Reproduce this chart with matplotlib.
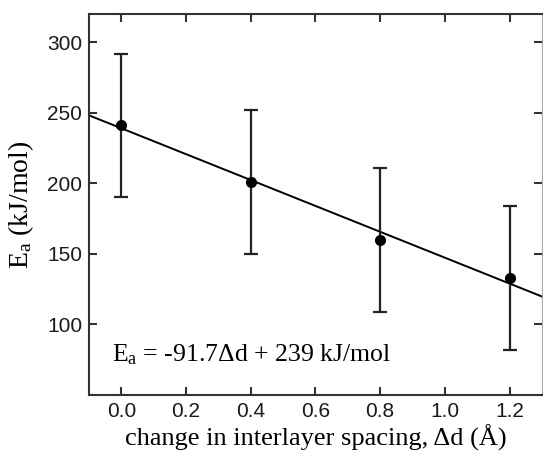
import matplotlib
matplotlib.use("Agg")
import matplotlib.pyplot as plt
import numpy as np

# Data
delta_d = [0.0, 0.4, 0.8, 1.2]
Ea = [241, 201, 160, 133]
Ea_err = [51, 51, 51, 51]
slope = -91.7
intercept = 239
xticks = [0.0, 0.2, 0.4, 0.6, 0.8, 1.0, 1.2]
yticks = [100, 150, 200, 250, 300]

plt.rcParams['mathtext.fontset'] = 'custom'
plt.rcParams['mathtext.rm'] = 'Liberation Serif'
plt.rcParams['mathtext.it'] = 'Liberation Serif:italic'

fig = plt.figure(figsize=(5.43, 4.58), dpi=100)
ax = fig.add_axes([0.164, 0.1376, 0.834, 0.8318])

xlim = (-0.1, 1.3)
xl = np.array(xlim)
ax.plot(xl, slope * xl + intercept, color='black', lw=1.4, zorder=2)
ax.errorbar(delta_d, Ea, yerr=Ea_err, fmt='o', color='black', ms=7,
            ecolor='#222222', elinewidth=1.6, capsize=5, capthick=1.6, zorder=3)

ax.set_xlim(*xlim)
ax.set_ylim(50, 320)
ax.set_xticks(xticks)
ax.set_yticks(yticks)
ax.set_xticklabels([f"{v:.1f}" for v in xticks])
ax.set_yticklabels([str(v) for v in yticks])

for lab in ax.get_xticklabels() + ax.get_yticklabels():
    lab.set_fontfamily('Liberation Sans')
    lab.set_fontsize(15)
    lab.set_color('#1a1a1a')

ax.tick_params(direction='in', length=6, width=1.5, color='#333333',
               top=True, right=True, pad=5)
for sp in ax.spines.values():
    sp.set_linewidth(1.5)
    sp.set_color('#333333')
ax.spines['right'].set_linewidth(0.8)
ax.spines['right'].set_color('#aaaaaa')

ax.set_xlabel('change in interlayer spacing, Δd (Å)', family='Liberation Serif',
              fontsize=19, labelpad=3)
ax.set_ylabel(r'E$_{\rm a}$ (kJ/mol)', family='Liberation Serif',
              fontsize=20, labelpad=8)
ax.text(0.05, 0.105, r'E$_{\rm a}$ = -91.7Δd + 239 kJ/mol', transform=ax.transAxes,
        family='Liberation Serif', fontsize=18.5, va='center', ha='left')

fig.savefig('out.png', dpi=100)
